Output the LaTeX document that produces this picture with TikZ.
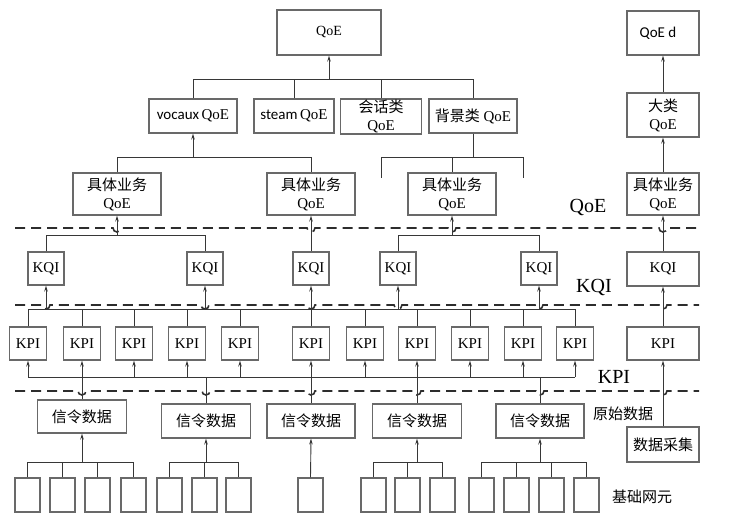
\documentclass[tikz,border=0pt]{standalone}
\usepackage{fontspec}
\setmainfont{Liberation Serif}
\newfontfamily\cjk{Noto Sans CJK SC}
\newfontfamily\calfont{Carlito}
\usetikzlibrary{arrows.meta}
\definecolor{boxgray}{RGB}{105,105,105}
\definecolor{linegray}{RGB}{55,55,55}
\definecolor{dashgray}{RGB}{45,45,45}
\tikzset{
  box/.style={draw=boxgray, line width=1.1pt, fill=white, inner sep=0pt, align=center, font=\fontsize{15}{18}\selectfont},
  conn/.style={draw=linegray, line width=0.9pt},
  arr/.style={conn, -{Stealth[length=6pt,width=3.5pt]}},
  dashline/.style={draw=dashgray, line width=1.6pt, dash pattern=on 10pt off 6pt},
  biglbl/.style={inner sep=0pt, font=\fontsize{20}{22}\selectfont},
  cnlbl/.style={inner sep=0pt, font=\fontsize{15}{18}\selectfont\cjk}
}
\newcommand\cbox[6]{\node[box,minimum width=#4pt,minimum height=#5pt] (#1) at (#2,#3) {#6};}
\begin{document}
\begin{tikzpicture}[x=1pt,y=-1pt]
\useasboundingbox (0,0) rectangle (732,524);
% dashed level lines with hops
\draw[dashline] (15,228) -- (113,228) arc[start angle=180,end angle=0,radius=4] -- (307,228) arc[start angle=180,end angle=0,radius=4] -- (448,228) arc[start angle=180,end angle=0,radius=4] -- (659,228) arc[start angle=180,end angle=0,radius=4] -- (702,228);
\draw[dashline] (15,305) -- (42,305) arc[start angle=180,end angle=0,radius=4] -- (201,305) arc[start angle=180,end angle=0,radius=4] -- (307,305) arc[start angle=180,end angle=0,radius=4] -- (394,305) arc[start angle=180,end angle=0,radius=4] -- (535,305) arc[start angle=180,end angle=0,radius=4] -- (659,305) arc[start angle=180,end angle=0,radius=4] -- (699,305);
\draw[dashline] (15,391) -- (78,391) arc[start angle=180,end angle=0,radius=4] -- (202,391) arc[start angle=180,end angle=0,radius=4] -- (307,391) arc[start angle=180,end angle=0,radius=4] -- (413,391) arc[start angle=180,end angle=0,radius=4] -- (536,391) arc[start angle=180,end angle=0,radius=4] -- (659,391) arc[start angle=180,end angle=0,radius=4] -- (699,391);
% boxes: top levels
\cbox{qoe}{329}{32.5}{104}{45}{\fontsize{14}{16}\selectfont QoE}
\cbox{voc}{193}{116}{88}{34}{{\calfont vocaux}\,QoE}
\cbox{steam}{294}{116}{80}{34}{{\calfont steam}\,QoE}
\cbox{hh}{381}{116.5}{81}{35}{{\cjk 会话类}\\QoE}
\cbox{bg}{473}{116}{88}{34}{{\cjk 背景类} QoE}
\cbox{jt1}{117}{194}{88}{42}{{\cjk 具体业务}\\QoE}
\cbox{jt2}{311}{194}{88}{42}{{\cjk 具体业务}\\QoE}
\cbox{jt3}{452}{194}{88}{42}{{\cjk 具体业务}\\QoE}
\cbox{qoed}{663}{33}{72}{44}{{\calfont QoE d}\hspace{10pt}}
\cbox{dl}{663}{115}{72}{44}{{\cjk 大类}\\QoE}
\cbox{jt4}{663}{194}{72}{42}{{\cjk 具体业务}\\QoE}
% KQI
\cbox{kqi1}{46}{268.5}{36}{33}{KQI}
\cbox{kqi2}{205}{268.5}{36}{33}{KQI}
\cbox{kqi3}{311}{268.5}{36}{33}{KQI}
\cbox{kqi4}{398}{268.5}{36}{33}{KQI}
\cbox{kqi5}{539}{268.5}{36}{33}{KQI}
\cbox{kqi6}{663}{269}{72}{34}{KQI}
% KPI
\cbox{kpi1}{28}{343.5}{37}{33}{KPI}
\cbox{kpi2}{82}{343.5}{37}{33}{KPI}
\cbox{kpi3}{134}{343.5}{37}{33}{KPI}
\cbox{kpi4}{187}{343.5}{37}{33}{KPI}
\cbox{kpi5}{240}{343.5}{37}{33}{KPI}
\cbox{kpi6}{311}{343.5}{37}{33}{KPI}
\cbox{kpi7}{365}{343.5}{37}{33}{KPI}
\cbox{kpi8}{417}{343.5}{37}{33}{KPI}
\cbox{kpi9}{470}{343.5}{37}{33}{KPI}
\cbox{kpi10}{523}{343.5}{37}{33}{KPI}
\cbox{kpi11}{575}{343.5}{37}{33}{KPI}
\cbox{kpi12}{663}{343.5}{72}{33}{KPI}
% signalling data
\cbox{xl1}{82}{416.5}{89}{33}{{\cjk 信令数据}}
\cbox{xl2}{206}{421}{89}{34}{{\cjk 信令数据}}
\cbox{xl3}{311}{421}{88}{34}{{\cjk 信令数据}}
\cbox{xl4}{417}{421}{89}{34}{{\cjk 信令数据}}
\cbox{xl5}{540}{421}{88}{34}{{\cjk 信令数据}}
\cbox{sj}{663}{444.5}{72}{35}{{\cjk 数据采集}}
% base network elements
\foreach \n/\x in {b1/27.5,b2/62.5,b3/97.5,b4/133.5,b5/169.5,b6/204.5,b7/238.5,b8/310.5,b9/373.5,b10/407.5,b11/442.5,b12/481.5,b13/516.5,b14/551.5,b15/586.5}
  \cbox{\n}{\x}{495}{25}{34}{};
% labels
\node[biglbl] (lq) at (588,208) {QoE};
\node[biglbl] (lk) at (594,288) {KQI};
\node[biglbl] (lp) at (614,377) {KPI};
\node[cnlbl] (ly) at (623,414) {原始数据};
\node[cnlbl] (lj) at (642,497) {基础网元};
% connectors: top bus
\coordinate (tb) at (329,79);
\draw[conn] (voc.north) -- (voc.north |- tb) -- (bg.north |- tb) -- (bg.north);
\draw[conn] (steam.north) -- (steam.north |- tb);
\draw[conn] (hh.north) -- (hh.north |- tb);
\draw[arr] (tb) -- (qoe.south);
% jt1/jt2 to vocaux
\coordinate (vb) at (193,157);
\draw[conn] (jt1.north) -- (jt1.north |- vb) -- (jt2.north |- vb) -- (jt2.north);
\draw[arr] (vb) -- (voc.south);
% background class branch
\coordinate (bb) at (473,157);
\coordinate (bl) at (381,178);
\coordinate (br) at (523,178);
\draw[conn] (bg.south) -- (bb);
\draw[conn] (bl) -- (bl |- bb) -- (br |- bb) -- (br);
\draw[conn] (jt3.north) -- (jt3.north |- bb);
% KQI to services
\coordinate (ka) at (117,235);
\draw[conn] (kqi1.north) -- (kqi1.north |- ka) -- (kqi2.north |- ka) -- (kqi2.north);
\draw[arr] (ka) -- (jt1.south);
\draw[arr] (kqi3.north) -- (jt2.south);
\coordinate (kc) at (452,235);
\draw[conn] (kqi4.north) -- (kqi4.north |- kc) -- (kqi5.north |- kc) -- (kqi5.north);
\draw[arr] (kc) -- (jt3.south);
% KPI top bus
\coordinate (pt) at (0,309);
\draw[conn] (kpi1.north |- pt) -- (kpi11.north |- pt);
\foreach \i in {1,...,11} \draw[conn] (kpi\i.north) -- (kpi\i.north |- pt);
\foreach \i in {1,...,5} \draw[arr] (kqi\i.south |- pt) -- (kqi\i.south);
% KPI bottom bus
\coordinate (pb) at (0,377);
\draw[conn] (kpi1.south |- pb) -- (kpi11.south |- pb);
\foreach \i in {1,...,11} \draw[arr] (kpi\i.south |- pb) -- (kpi\i.south);
\foreach \i in {1,...,5} \draw[conn] (xl\i.north) -- (xl\i.north |- pb);
% base elements to signalling data
\coordinate (gb) at (0,462);
\draw[conn] (b1.north) -- (b1.north |- gb) -- (b4.north |- gb) -- (b4.north);
\draw[conn] (b2.north) -- (b2.north |- gb);
\draw[conn] (b3.north) -- (b3.north |- gb);
\draw[arr] (xl1.south |- gb) -- (xl1.south);
\draw[conn] (b5.north) -- (b5.north |- gb) -- (b7.north |- gb) -- (b7.north);
\draw[conn] (b6.north) -- (b6.north |- gb);
\draw[arr] (xl2.south |- gb) -- (xl2.south);
\draw[arr] (b8.north) -- (xl3.south);
\draw[conn] (b9.north) -- (b9.north |- gb) -- (b11.north |- gb) -- (b11.north);
\draw[conn] (b10.north) -- (b10.north |- gb);
\draw[arr] (xl4.south |- gb) -- (xl4.south);
\draw[conn] (b12.north) -- (b12.north |- gb) -- (b15.north |- gb) -- (b15.north);
\draw[conn] (b13.north) -- (b13.north |- gb);
\draw[conn] (b14.north) -- (b14.north |- gb);
\draw[arr] (xl5.south |- gb) -- (xl5.south);
% right column
\draw[arr] (dl.north) -- (qoed.south);
\draw[arr] (jt4.north) -- (dl.south);
\draw[arr] (kqi6.north) -- (jt4.south);
\draw[arr] (kpi12.north) -- (kqi6.south);
\draw[arr] (sj.north) -- (kpi12.south);
\end{tikzpicture}
\end{document}
